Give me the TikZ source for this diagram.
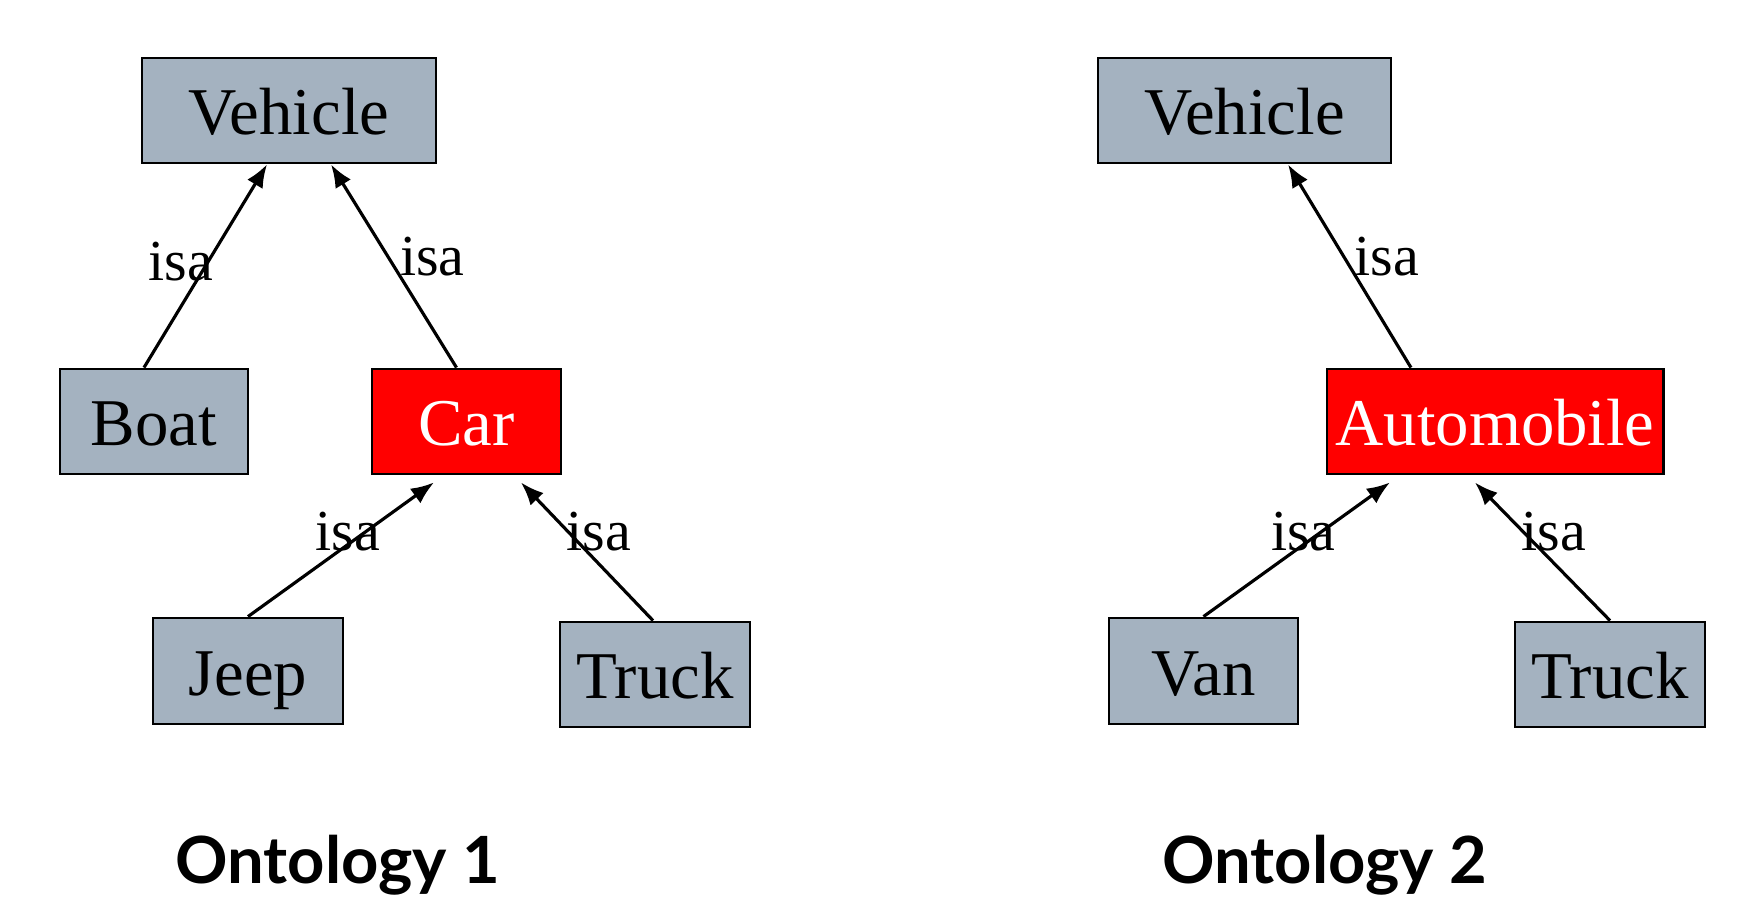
\documentclass[tikz,border=0pt]{standalone}
\usepackage{fontspec}
\setmainfont{Liberation Serif}
\newfontfamily\titlefont{Lato}
\usepackage{tikz}
\usetikzlibrary{arrows.meta}
\definecolor{slate}{RGB}{164, 178, 192}
\definecolor{hot}{RGB}{255, 0, 0}

\tikzset{
  concept/.style={draw=black, line width=0.8pt, fill=slate, inner sep=0pt,
                  minimum height=1.05cm, text height=13.9pt, text depth=0pt,
                  font=\fontsize{19}{21}\selectfont},
  picked/.style={concept, fill=hot, text=white},
  isa/.style={line width=0.9pt, -{Latex[length=2.3mm, width=1.8mm]}},
  tag/.style={font=\fontsize{16.5}{18}\selectfont, inner sep=0pt},
  caption/.style={font=\titlefont\bfseries\fontsize{18.5}{22}\selectfont}
}

\begin{document}
\begin{tikzpicture}[x=0.01cm, y=-0.01cm]

  \useasboundingbox (0, 0) rectangle (1738, 908);

  % Ontology 1
  \node [concept, minimum width=2.94cm] (veh1) at (289, 110.5) {Vehicle};
  \node [concept, minimum width=1.88cm] (boat) at (154, 421.5) {Boat};
  \node [picked, minimum width=1.89cm] (car) at (466.5, 421.5) {Car};
  \node [concept, minimum width=1.90cm, minimum height=1.06cm] (jeep) at (248, 671) {Jeep};
  \node [concept, minimum width=1.90cm] (truck1) at (655, 674.5) {Truck};

  \draw [isa] ([xshift=-0.1cm] boat.north) -- ([xshift=-0.22cm] veh1.south)
    node [tag, pos=0.5, xshift=-0.245cm, yshift=0.04cm] (t1) {isa};
  \draw [isa] ([xshift=-0.1cm] car.north) -- ([xshift=0.42cm] veh1.south)
    node [tag, pos=0.5, xshift=0.385cm, yshift=0.09cm] (t2) {isa};
  \draw [isa] (jeep.north) -- ([xshift=-0.325cm, yshift=-0.07cm] car.south)
    node [tag, pos=0.5, xshift=0.07cm, yshift=0.175cm] (t3) {isa};
  \draw [isa] ([xshift=-0.02cm] truck1.north) -- ([xshift=0.545cm, yshift=-0.07cm] car.south)
    node [tag, pos=0.5, xshift=0.12cm, yshift=0.195cm] (t4) {isa};

  \node [caption] (cap1) at (338, 865) {Ontology 1};

  % Ontology 2
  \node [concept, minimum width=2.93cm] (veh2) at (1244.5, 110.5) {Vehicle};
  \node [picked, minimum width=3.36cm] (auto) at (1495, 421.5) {Automobile};
  \node [concept, minimum width=1.89cm, minimum height=1.06cm] (van) at (1203.5, 671) {Van};
  \node [concept, minimum width=1.90cm] (truck2) at (1610, 674.5) {Truck};

  \draw [isa] ([xshift=-0.84cm] auto.north) -- ([xshift=0.435cm] veh2.south)
    node [tag, pos=0.5, xshift=0.375cm, yshift=0.09cm] (t5) {isa};
  \draw [isa] (van.north) -- ([xshift=-1.05cm, yshift=-0.07cm] auto.south)
    node [tag, pos=0.5, xshift=0.065cm, yshift=0.175cm] (t6) {isa};
  \draw [isa] (truck2.north) -- ([xshift=-0.2cm, yshift=-0.07cm] auto.south)
    node [tag, pos=0.5, xshift=0.115cm, yshift=0.195cm] (t7) {isa};

  \node [caption] (cap2) at (1325, 865) {Ontology 2};

\end{tikzpicture}
\end{document}
